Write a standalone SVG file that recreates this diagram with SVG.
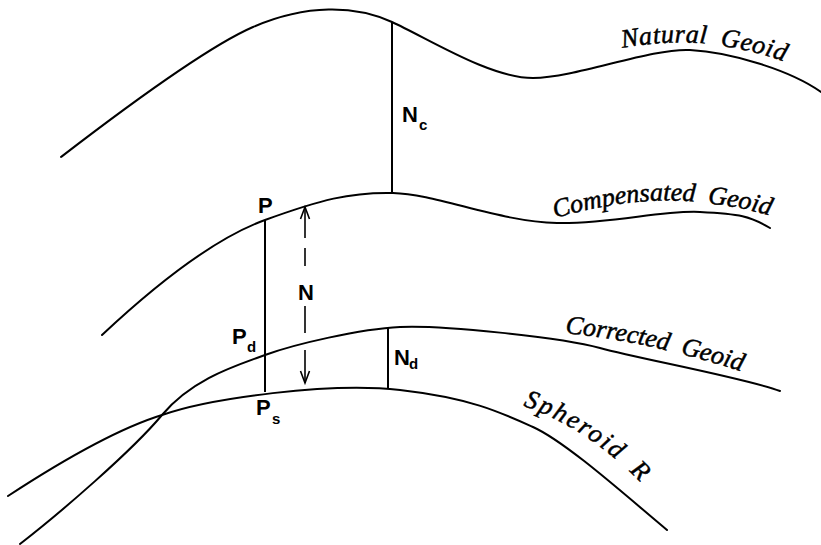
<svg xmlns="http://www.w3.org/2000/svg" width="821" height="545" viewBox="0 0 821 545">
<style>
.curve{fill:none;stroke:#000;stroke-width:2;stroke-linecap:round}
.vline{fill:none;stroke:#000;stroke-width:2}
.dim{fill:none;stroke:#000;stroke-width:1.6}
.lbl{font-family:"Liberation Sans",Arial,sans-serif;font-weight:bold;fill:#000}
.main{font-size:22px}
.sub{font-size:15px}
.script{font-family:"Liberation Serif","Times New Roman",serif;font-style:italic;font-size:26px;fill:#000;stroke:#000;stroke-width:0.5;word-spacing:6px}
</style>
<defs>
<path id="tpNatural" d="M 622 48 Q 680 38 722 46 Q 762 52 795 66"/>
<path id="tpComp" d="M 555 218 Q 640 194 705 203 Q 745 207 780 219"/>
<path id="tpCorr" d="M 565 333 Q 620 339 665 350 Q 710 361 750 374"/>
<path id="tpSph" d="M 523 406 Q 590 428 650 492"/>
</defs>
<rect width="821" height="545" fill="#fff"/>

<g id="natural-geoid">
<path class="curve" d="M 61 157 C 100 127, 200 50, 253 27 C 306 4, 355 5, 392 22 C 429 39, 490 78, 533 78 C 576 78, 650 48, 690 50 C 730 52, 790 70, 821 92"/>
<text class="script" letter-spacing="0.6"><textPath href="#tpNatural">Natural Geoid</textPath></text>
</g>

<g id="compensated-geoid">
<path class="curve" d="M 102 335 C 150 290, 210 240, 265 220 C 320 200, 350 192, 393 193 C 436 194, 500 222, 557 223 C 614 224, 660 210, 700 212 C 740 214, 750 216, 770 228"/>
<text class="script"><textPath href="#tpComp">Compensated Geoid</textPath></text>
</g>

<g id="corrected-geoid">
<path class="curve" d="M 20 544 C 60 513, 132 451, 162 415 C 192 379, 235 366, 265 355 C 295 344, 360 329, 400 327 C 440 325, 560 337, 600 348 C 640 359, 745 378, 780 391"/>
<text class="script"><textPath href="#tpCorr">Corrected Geoid</textPath></text>
</g>

<g id="spheroid">
<path class="curve" d="M 8 496 C 60 462, 120 428, 162 415 C 210 398, 330 382, 400 390 C 470 398, 500 412, 533 427 C 566 442, 625 495, 667 530"/>
<text class="script" letter-spacing="2.2"><textPath href="#tpSph">Spheroid R</textPath></text>
</g>

<g id="connectors">
<line class="vline" x1="392" y1="22" x2="392" y2="192"/>
<line class="vline" x1="265" y1="220" x2="265" y2="392"/>
<line class="vline" x1="388" y1="328" x2="388" y2="389"/>
<g id="N-arrow">
<line class="dim" x1="305" y1="207" x2="305" y2="238"/>
<line class="dim" x1="305" y1="248" x2="305" y2="266"/>
<line class="dim" x1="305" y1="306" x2="305" y2="333"/>
<line class="dim" x1="305" y1="350" x2="305" y2="383"/>
<polyline class="dim" points="300.5,219 305,207 309.5,219"/>
<polyline class="dim" points="300.5,371 305,383 309.5,371"/>
</g>
</g>

<g id="labels">
<g id="label-Nc"><text class="lbl main" x="402" y="122">N</text><text class="lbl sub" x="419" y="130">c</text></g>
<g id="label-P"><text class="lbl main" x="258" y="213">P</text></g>
<g id="label-Pd"><text class="lbl main" x="232" y="344">P</text><text class="lbl sub" x="247" y="352">d</text></g>
<g id="label-Ps"><text class="lbl main" x="256" y="415">P</text><text class="lbl sub" x="272" y="424">s</text></g>
<g id="label-Nd"><text class="lbl main" x="394" y="365">N</text><text class="lbl sub" x="409" y="369">d</text></g>
<g id="label-N"><text class="lbl main" x="306" y="300" text-anchor="middle">N</text></g>
</g>
</svg>
